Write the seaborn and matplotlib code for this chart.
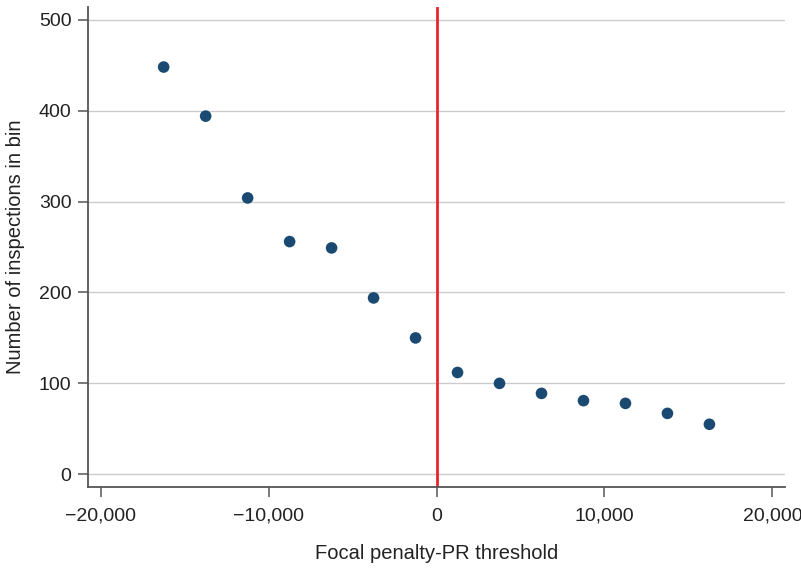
import numpy as np
import pandas as pd
import matplotlib
matplotlib.use("Agg")
import matplotlib.pyplot as plt
import seaborn as sns

# bin centres (focal penalty minus PR threshold) and counts
bin_centers = [-16250, -13750, -11250, -8750, -6250, -3750, -1250,
               1250, 3750, 6250, 8750, 11250, 13750, 16250]
counts = [448, 394, 304, 256, 249, 194, 150,
          112, 100, 89, 81, 78, 67, 55]
x_ticks = [-20000, -10000, 0, 10000, 20000]
x_tick_labels = ["\u221220,000", "\u221210,000", "0", "10,000", "20,000"]
y_ticks = [0, 100, 200, 300, 400, 500]

df = pd.DataFrame({"bin": bin_centers, "n": counts})

sns.set_theme(style="white")
plt.rcParams["font.family"] = ["Liberation Sans", "DejaVu Sans"]

fig = plt.figure(figsize=(8.01, 5.68), dpi=100)
ax = fig.add_axes([0.110, 0.1426, 0.870, 0.845])

for t in y_ticks:
    ax.axhline(t, color="#cccccc", lw=1.0, zorder=0)

ax.axvline(0, color="#e8262a", lw=2.0, zorder=1)

sns.scatterplot(data=df, x="bin", y="n", ax=ax, color="#1a4a72",
                s=70, edgecolor="none", zorder=3)

ax.set_xlim(-20750, 20750)
ax.set_ylim(-14, 514)
ax.set_xticks(x_ticks)
ax.set_xticklabels(x_tick_labels)
ax.set_yticks(y_ticks)

ax.set_xlabel("Focal penalty-PR threshold", fontsize=14.5, color="#222222", labelpad=14)
ax.set_ylabel("Number of inspections in bin", fontsize=14.5, color="#222222", labelpad=10)

sns.despine(ax=ax)
for side in ["left", "bottom"]:
    ax.spines[side].set_color("#555555")
    ax.spines[side].set_linewidth(1.3)

ax.tick_params(axis="both", which="major", direction="out", length=7,
               width=1.1, color="#555555", labelsize=14, labelcolor="#222222",
               left=True, bottom=True)
ax.tick_params(axis="x", pad=8)
ax.tick_params(axis="y", pad=5)

fig.savefig("out.png", dpi=100)
